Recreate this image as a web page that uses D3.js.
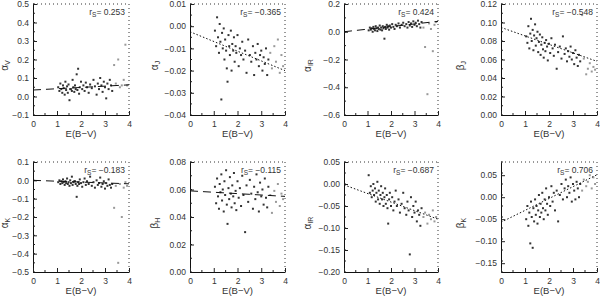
<!DOCTYPE html>
<html>
<head>
<meta charset="utf-8">
<script src="https://cdn.jsdelivr.net/npm/d3@7"></script>
<style>
    body { margin: 0; background: #fff; }
    svg { font-family: "Liberation Sans", Arial, sans-serif; }
</style>
</head>
<body>
<svg id="chart" width="600" height="296"></svg>
<script>
// colour excess of every star (shared x values)
const ebv = [1.05, 1.10, 1.14, 1.18, 1.22, 1.25, 1.28, 1.32, 1.35, 1.38,
    1.42, 1.45, 1.48, 1.52, 1.55, 1.58, 1.62, 1.65, 1.68, 1.72,
    1.75, 1.78, 1.82, 1.85, 1.88, 1.92, 1.95, 2.00, 2.05, 2.10,
    2.15, 2.20, 2.25, 2.32, 2.38, 2.45, 2.52, 2.58, 2.65, 2.70,
    2.75, 2.80, 2.85, 2.90, 2.95, 3.00, 3.05, 3.10, 3.15, 3.20,
    3.25, 3.30, 3.38, 3.45, 3.55, 3.62, 3.70, 3.78, 3.85, 3.92];

const alphaV = [0.05, 0.03, 0.07, 0.04, 0.02, 0.06, 0.045, 0.01, 0.08, 0.035,
    0.055, 0.02, 0.065, -0.02, 0.04, 0.04, 0.03, 0.09, 0.05, 0.025,
    0.06, 0.04, 0.12, 0.035, 0.15, 0.015, 0.05, 0.08, 0.04, 0.06,
    0.03, 0.075, 0.05, 0.02, 0.065, 0.045, 0.09, 0.055, 0.01, 0.07,
    0.04, 0.1, 0.06, 0.025, 0.08, 0.05, -0.01, 0.07, 0.04, 0.09,
    0.06, 0.03, 0.17, 0.07, 0.2, 0.05, 0.06, 0.09, 0.28, 0.06];

const alphaJ = [-0.002, -0.009, 0.004, -0.005, -0.012, 0.001, -0.007, -0.033, -0.003, -0.010,
    -0.001, -0.015, -0.006, -0.011, -0.019, -0.025, -0.004, -0.009, -0.013, -0.002,
    -0.020, -0.008, -0.011, -0.005, -0.016, -0.009, -0.012, -0.004, -0.018, -0.010,
    -0.013, -0.007, -0.015, -0.011, -0.021, -0.006, -0.013, -0.016, -0.009, -0.022,
    -0.012, -0.015, -0.008, -0.018, -0.013, -0.011, -0.020, -0.014, -0.017, -0.010,
    -0.022, -0.015, -0.012, -0.019, -0.009, -0.016, -0.006, -0.021, -0.013, -0.018];

const alphaIR = [0.01, 0.03, 0.015, 0.025, 0.0, 0.035, 0.02, 0.01, 0.04, 0.025,
    0.005, 0.03, 0.02, 0.045, 0.015, 0.03, 0.01, 0.04, 0.025, -0.05,
    0.035, 0.02, 0.05, 0.03, 0.04, 0.015, 0.045, 0.03, 0.055, 0.035,
    0.02, 0.05, 0.04, 0.06, 0.03, 0.05, 0.065, 0.04, 0.055, 0.03,
    0.07, 0.045, 0.06, 0.035, 0.075, 0.05, 0.065, 0.04, 0.08, 0.055,
    0.03, 0.07, 0.03, -0.11, -0.45, 0.06, 0.02, -0.14, 0.05, 0.07];

const betaJ = [0.085, 0.078, 0.096, 0.072, 0.088, 0.104, 0.080, 0.092, 0.070, 0.086,
    0.098, 0.075, 0.083, 0.090, 0.068, 0.079, 0.087, 0.065, 0.076, 0.084,
    0.071, 0.062, 0.078, 0.069, 0.081, 0.074, 0.059, 0.077, 0.067, 0.083,
    0.072, 0.064, 0.076, 0.050, 0.068, 0.074, 0.061, 0.085, 0.066, 0.072,
    0.058, 0.069, 0.063, 0.074, 0.060, 0.067, 0.055, 0.070, 0.062, 0.053,
    0.065, 0.058, 0.108, 0.061, 0.044, 0.050, 0.056, 0.047, 0.052, 0.049];

const alphaK = [-0.01, 0.0, -0.02, -0.005, -0.015, 0.005, -0.01, -0.025, -0.005, -0.015,
    0.01, -0.02, -0.01, -0.03, 0.0, -0.015, 0.02, -0.025, -0.01, -0.005,
    -0.005, -0.02, -0.09, -0.03, -0.01, -0.02, 0.005, -0.015, -0.035, -0.01,
    0.01, -0.025, -0.005, -0.02, 0.02, -0.03, -0.01, -0.04, 0.0, -0.025,
    -0.015, 0.015, -0.035, -0.02, -0.005, -0.045, -0.015, -0.03, 0.005, -0.025,
    -0.04, -0.02, -0.15, -0.03, -0.45, -0.02, -0.2, -0.04, -0.01, -0.03];

const betaH = [0.062, 0.050, 0.068, 0.055, 0.046, 0.064, 0.058, 0.071, 0.052, 0.060,
    0.044, 0.066, 0.056, 0.074, 0.049, 0.035, 0.061, 0.053, 0.069, 0.057,
    0.047, 0.063, 0.055, 0.072, 0.050, 0.059, 0.045, 0.066, 0.054, 0.061,
    0.048, 0.070, 0.056, 0.029, 0.063, 0.051, 0.067, 0.057, 0.046, 0.062,
    0.053, 0.071, 0.058, 0.044, 0.065, 0.055, 0.060, 0.049, 0.068, 0.054,
    0.047, 0.062, 0.056, 0.043, 0.059, 0.051, 0.064, 0.048, 0.057, 0.053];

const betaIR = [0.02, -0.02, -0.005, -0.03, -0.015, 0.0, -0.025, -0.01, -0.04, -0.02,
    0.005, -0.035, -0.015, -0.045, -0.025, -0.005, -0.035, -0.02, -0.05, -0.03,
    -0.01, -0.045, -0.025, -0.055, -0.09, -0.035, -0.02, -0.05, -0.03, -0.06,
    -0.04, -0.015, -0.05, -0.035, -0.065, -0.045, -0.02, -0.055, -0.07, -0.04,
    -0.06, -0.16, -0.03, -0.075, -0.05, -0.065, -0.04, -0.085, -0.06, -0.07,
    -0.095, -0.055, -0.075, -0.065, -0.09, -0.07, -0.08, -0.06, -0.085, -0.075];

const betaK = [-0.05, -0.02, -0.065, -0.035, -0.105, -0.01, -0.045, -0.115, -0.025, -0.055,
    -0.005, -0.04, -0.02, -0.06, -0.03, 0.005, -0.045, -0.015, -0.035, 0.01,
    -0.025, -0.05, -0.005, -0.03, 0.02, -0.015, -0.04, 0.0, -0.02, 0.025,
    -0.01, 0.01, -0.03, 0.015, -0.055, 0.005, 0.03, -0.005, 0.02, 0.04,
    0.0, 0.025, 0.01, 0.045, -0.01, 0.03, 0.015, -0.005, 0.035, 0.02,
    0.0, 0.03, 0.015, 0.04, 0.025, 0.035, 0.05, 0.02, 0.045, 0.03];

// fitted line ends (at E(B-V)=0 and 4) and Spearman coefficients
const fitEnds = [[0.035, 0.063], [-0.0025, -0.020], [0.0, 0.075], [0.0947, 0.058],
    [0.0, -0.019], [0.059, 0.055], [-0.002, -0.080], [-0.057, 0.051]];
const rsValues = ['0.253', '−0.365', '0.424', '−0.548', '−0.183', '−0.115', '−0.687', '0.706'];
const xTicks = [0, 1, 2, 3, 4];

const panels = [
    { vals: alphaV, name: ['α', 'V'], domain: [-0.1, 0.5], ticks: d3.range(-0.1, 0.51, 0.1), fmt: '.1f', dash: '8,5' },
    { vals: alphaJ, name: ['α', 'J'], domain: [-0.04, 0.01], ticks: d3.range(-0.04, 0.011, 0.01), fmt: '.2f', dash: '1.5,2' },
    { vals: alphaIR, name: ['α', 'IR'], domain: [-0.6, 0.2], ticks: d3.range(-0.6, 0.21, 0.2), fmt: '.1f', dash: '8,5' },
    { vals: betaJ, name: ['β', 'J'], domain: [0, 0.12], ticks: d3.range(0, 0.121, 0.02), fmt: '.2f', dash: '1.5,2' },
    { vals: alphaK, name: ['α', 'K'], domain: [-0.5, 0.1], ticks: d3.range(-0.5, 0.11, 0.1), fmt: '.1f', dash: '8,5' },
    { vals: betaH, name: ['β', 'H'], domain: [0, 0.08], ticks: d3.range(0, 0.081, 0.02), fmt: '.2f', dash: '8,5' },
    { vals: betaIR, name: ['α', 'IR'], domain: [-0.2, 0.05], ticks: d3.range(-0.2, 0.051, 0.05), fmt: '.2f', dash: '1.5,2' },
    { vals: betaK, name: ['β', 'K'], domain: [-0.17, 0.08], ticks: d3.range(-0.15, 0.051, 0.05), fmt: '.2f', dash: '1.5,2' }
];

const colLeft = [33, 190, 344, 501];
const colRight = [129, 285, 438, 597];
const colTitle = [8, 158, 311, 464];
const rowTop = [4, 162];
const rowBottom = [115, 272];

const svg = d3.select('#chart');

panels.forEach((p, i) => {
    const col = i % 4, row = Math.floor(i / 4);
    const x0 = colLeft[col], x1 = colRight[col];
    const y0 = rowTop[row], y1 = rowBottom[row];

    const x = d3.scaleLinear().domain([0, 4]).range([x0, x1]);
    const y = d3.scaleLinear().domain(p.domain).range([y1, y0]);
    const g = svg.append('g');

    // dotted top and right frame
    g.append('line').attr('x1', x0).attr('x2', x1).attr('y1', y0).attr('y2', y0)
        .attr('stroke', '#333').attr('stroke-dasharray', '1,3');
    g.append('line').attr('x1', x1).attr('x2', x1).attr('y1', y0).attr('y2', y1)
        .attr('stroke', '#333').attr('stroke-dasharray', '1,3');

    const step = p.ticks[1] - p.ticks[0];
    const minorY = d3.range(p.domain[0], p.domain[1] + 1e-9, step / 2);

    const yAxis = g.append('g')
        .attr('transform', `translate(${x0},0)`)
        .call(d3.axisLeft(y).tickValues(p.ticks.map(v => +v.toFixed(3)))
            .tickFormat(d3.format(p.fmt)).tickSizeInner(-4).tickSizeOuter(0).tickPadding(4));
    g.append('g').selectAll('line').data(minorY).join('line')
        .attr('x1', x0).attr('x2', x0 + 2).attr('y1', d => y(d)).attr('y2', d => y(d))
        .attr('stroke', '#222');

    const xAxis = g.append('g')
        .attr('transform', `translate(0,${y1})`)
        .call(d3.axisBottom(x).tickValues(xTicks).tickFormat(d3.format('d'))
            .tickSizeInner(-4).tickSizeOuter(0).tickPadding(6));
    g.append('g').selectAll('line').data(d3.range(0.5, 4, 1)).join('line')
        .attr('x1', d => x(d)).attr('x2', d => x(d)).attr('y1', y1).attr('y2', y1 - 2)
        .attr('stroke', '#222');

    [yAxis, xAxis].forEach(a => {
        a.select('.domain').attr('stroke', '#111');
        a.selectAll('.tick line').attr('stroke', '#222');
        a.selectAll('text').attr('font-size', 8.5).attr('fill', '#333');
    });

    // scatter points
    g.append('g').selectAll('rect').data(p.vals).join('rect')
        .attr('x', (d, k) => x(ebv[k]) - 1)
        .attr('y', d => y(d) - 1)
        .attr('width', 2).attr('height', 2)
        .attr('fill', (d, k) => ebv[k] > 3.35 ? '#999' : '#333');

    // fitted line
    g.append('line')
        .attr('x1', x(0)).attr('y1', y(fitEnds[i][0]))
        .attr('x2', x(4)).attr('y2', y(fitEnds[i][1]))
        .attr('stroke', '#111').attr('stroke-width', 1)
        .attr('stroke-dasharray', p.dash);

    // correlation note
    const note = g.append('text')
        .attr('x', x1 - 4).attr('y', y0 + 11)
        .attr('text-anchor', 'end').attr('font-size', 8.5).attr('fill', '#333');
    note.append('tspan').text('r');
    note.append('tspan').attr('font-size', 6.5).attr('dy', 2).text('S');
    note.append('tspan').attr('dy', -2).text('= ' + rsValues[i]);

    // x title
    g.append('text')
        .attr('x', (x0 + x1) / 2).attr('y', y1 + 22)
        .attr('text-anchor', 'middle').attr('font-size', 9.5).attr('fill', '#333')
        .text('E(B−V)');

    // y title
    const yl = g.append('text')
        .attr('transform', `translate(${colTitle[col]},${(y0 + y1) / 2 + 6}) rotate(-90)`)
        .attr('text-anchor', 'middle').attr('font-size', 10).attr('fill', '#333');
    yl.append('tspan').text(p.name[0]);
    yl.append('tspan').attr('font-size', 7).attr('dy', 2).text(p.name[1]);
});
</script>
</body>
</html>
